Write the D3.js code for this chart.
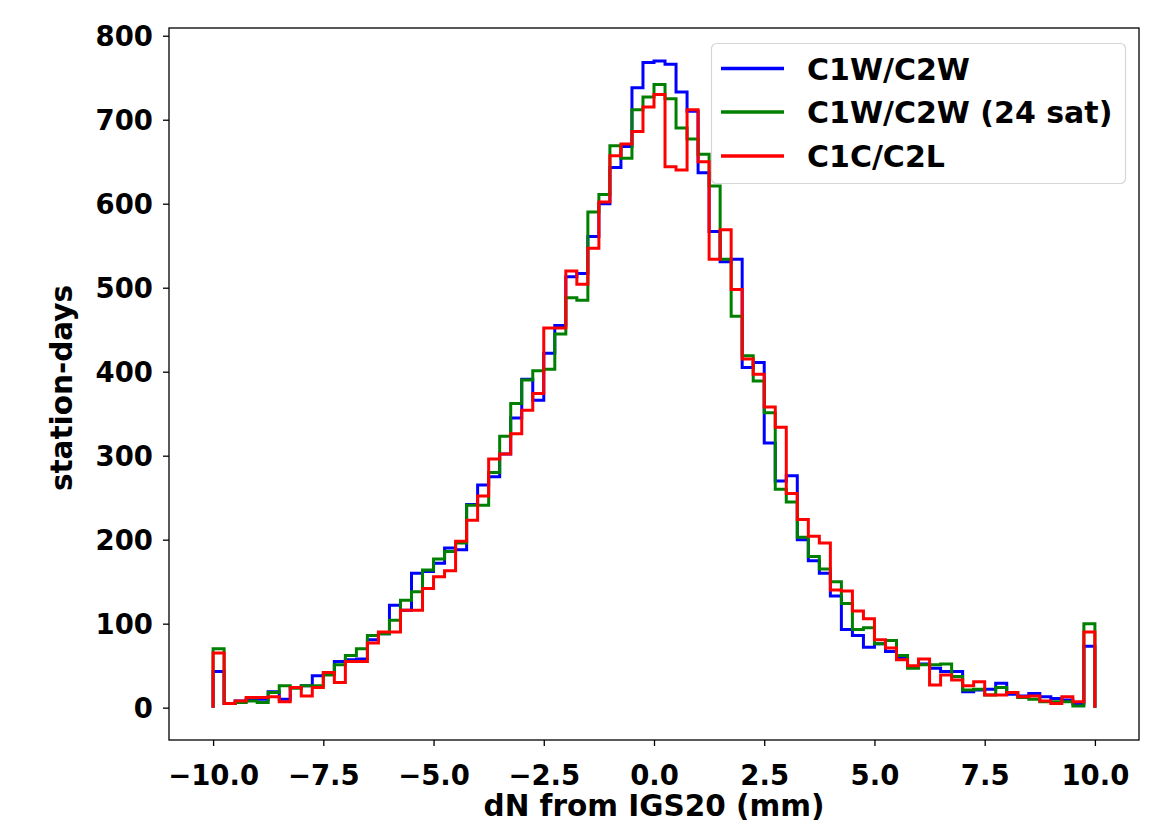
<!DOCTYPE html>
<html>
<head>
<meta charset="utf-8">
<script src="https://cdn.jsdelivr.net/npm/d3@7"></script>
<style>
  html, body { margin: 0; padding: 0; background: #ffffff; }
  svg { display: block; }
  text { font-family: "DejaVu Sans", sans-serif; font-weight: bold; fill: #000; }
</style>
</head>
<body>
<svg id="chart" width="1170" height="828"></svg>
<script>
// Histogram of north offsets: 80 bins of 0.25 mm between -10 and 10 mm
const binStart = -10;
const binWidth = 0.25;
const binCount = 80;

const seriesNames = ["C1W/C2W", "C1W/C2W (24 sat)", "C1C/C2L"];
const seriesColors = ["#0000ff", "#008000", "#ff0000"];

// counts per bin (station-days)
const countsC1W = [
  43, 5, 8, 10, 10, 19, 10, 24, 26, 38,
  40, 55, 57, 58, 81, 88, 122, 116, 160, 162,
  172, 190, 188, 242, 265, 275, 302, 345, 391, 366,
  422, 455, 513, 517, 561, 600, 643, 668, 738, 768,
  770, 766, 733, 710, 637, 567, 531, 534, 405, 411,
  315, 270, 276, 200, 175, 160, 133, 93, 86, 72,
  76, 67, 59, 49, 52, 47, 43, 43, 19, 21,
  22, 29, 16, 14, 17, 13, 11, 9, 5, 73
];
const countsC1W24 = [
  70, 5, 6, 8, 6, 18, 26, 23, 26, 26,
  39, 51, 62, 70, 86, 88, 104, 128, 138, 164,
  177, 186, 196, 241, 241, 280, 323, 362, 390, 401,
  403, 445, 488, 485, 590, 611, 669, 654, 712, 727,
  742, 725, 690, 677, 659, 621, 534, 466, 419, 389,
  351, 260, 245, 203, 180, 165, 150, 124, 93, 95,
  76, 80, 62, 47, 51, 51, 52, 37, 21, 22,
  15, 24, 18, 12, 10, 7, 7, 7, 2, 100
];
const countsC1C = [
  65, 5, 8, 12, 12, 13, 7, 24, 14, 24,
  42, 30, 55, 55, 77, 90, 90, 116, 116, 142,
  156, 163, 198, 223, 252, 296, 302, 326, 354, 374,
  452, 452, 520, 504, 547, 602, 657, 671, 686, 715,
  730, 644, 640, 712, 650, 534, 569, 498, 415, 397,
  358, 334, 255, 224, 204, 196, 140, 139, 115, 106,
  81, 71, 57, 50, 58, 27, 39, 33, 26, 31,
  15, 15, 18, 13, 14, 8, 5, 13, 7, 90
];

const xTicks = [-10, -7.5, -5, -2.5, 0, 2.5, 5, 7.5, 10];
const yTicks = [0, 100, 200, 300, 400, 500, 600, 700, 800];
const xLabel = "dN from IGS20 (mm)";
const yLabel = "station-days";

const allSeries = [countsC1W, countsC1W24, countsC1C];
const binEdges = d3.range(binCount + 1).map(i => binStart + i * binWidth);

// plot frame
const frame = { left: 169, top: 28, right: 1139, bottom: 740 };

const x = d3.scaleLinear().domain([-11, 11]).range([frame.left, frame.right]);
const y = d3.scaleLinear().domain([-38.5, 809.2]).range([frame.bottom, frame.top]);

const svg = d3.select("#chart");

// step outline for one series: up from zero at the first edge, across each bin, down to zero at the last
function stepPoints(counts) {
  const pts = [[binEdges[0], 0]];
  counts.forEach((c, i) => {
    pts.push([binEdges[i], c]);
    pts.push([binEdges[i + 1], c]);
  });
  pts.push([binEdges[binCount], 0]);
  return pts;
}

const line = d3.line().x(d => x(d[0])).y(d => y(d[1]));

const plot = svg.append("g");
plot.append("defs").append("clipPath").attr("id", "clip")
  .append("rect")
  .attr("x", frame.left).attr("y", frame.top)
  .attr("width", frame.right - frame.left).attr("height", frame.bottom - frame.top);

const marks = plot.append("g").attr("clip-path", "url(#clip)");
allSeries.forEach((counts, i) => {
  marks.append("path")
    .attr("d", line(stepPoints(counts)))
    .attr("fill", "none")
    .attr("stroke", seriesColors[i])
    .attr("stroke-width", 3)
    .attr("stroke-linejoin", "miter");
});

// axes
const fmtX = v => (v < 0 ? "\u2212" : "") + Math.abs(v).toFixed(1);

const xAxis = d3.axisBottom(x).tickValues(xTicks).tickFormat(fmtX).tickSize(6).tickPadding(18);
const yAxis = d3.axisLeft(y).tickValues(yTicks).tickFormat(d3.format("d")).tickSize(6).tickPadding(10);

const gx = svg.append("g").attr("transform", `translate(0,${frame.bottom})`).call(xAxis);
const gy = svg.append("g").attr("transform", `translate(${frame.left},0)`).call(yAxis);

[gx, gy].forEach(g => {
  g.select(".domain").remove();
  g.selectAll(".tick line").attr("stroke", "#000").attr("stroke-width", 1.3);
  g.selectAll(".tick text")
    .style("font-family", "'DejaVu Sans', sans-serif")
    .style("font-weight", "bold")
    .style("font-size", "27.5px")
    .attr("fill", "#000");
});
gx.selectAll(".tick text").attr("dy", "0.75em");
gy.selectAll(".tick text").attr("dy", "0.36em");

// frame spines
svg.append("rect")
  .attr("x", frame.left).attr("y", frame.top)
  .attr("width", frame.right - frame.left).attr("height", frame.bottom - frame.top)
  .attr("fill", "none").attr("stroke", "#000").attr("stroke-width", 1.3);

// axis titles
svg.append("text")
  .attr("x", (frame.left + frame.right) / 2)
  .attr("y", 816)
  .attr("text-anchor", "middle")
  .style("font-size", "29.5px")
  .text(xLabel);

svg.append("text")
  .attr("transform", `translate(72,${(frame.top + frame.bottom) / 2 + 4}) rotate(-90)`)
  .attr("text-anchor", "middle")
  .style("font-size", "29.5px")
  .text(yLabel);

// legend
const legend = svg.append("g");
legend.append("rect")
  .attr("x", 711.5).attr("y", 43.5)
  .attr("width", 414).attr("height", 140)
  .attr("rx", 5).attr("ry", 5)
  .attr("fill", "#ffffff").attr("fill-opacity", 0.8)
  .attr("stroke", "#d6d6d6").attr("stroke-width", 1.2);

const legendRows = [68.5, 112, 156];
seriesNames.forEach((name, i) => {
  legend.append("line")
    .attr("x1", 721).attr("x2", 784)
    .attr("y1", legendRows[i]).attr("y2", legendRows[i])
    .attr("stroke", seriesColors[i]).attr("stroke-width", 3.5);
  legend.append("text")
    .attr("x", 807)
    .attr("y", legendRows[i] + 11)
    .style("font-size", "30px")
    .text(name);
});
</script>
</body>
</html>
